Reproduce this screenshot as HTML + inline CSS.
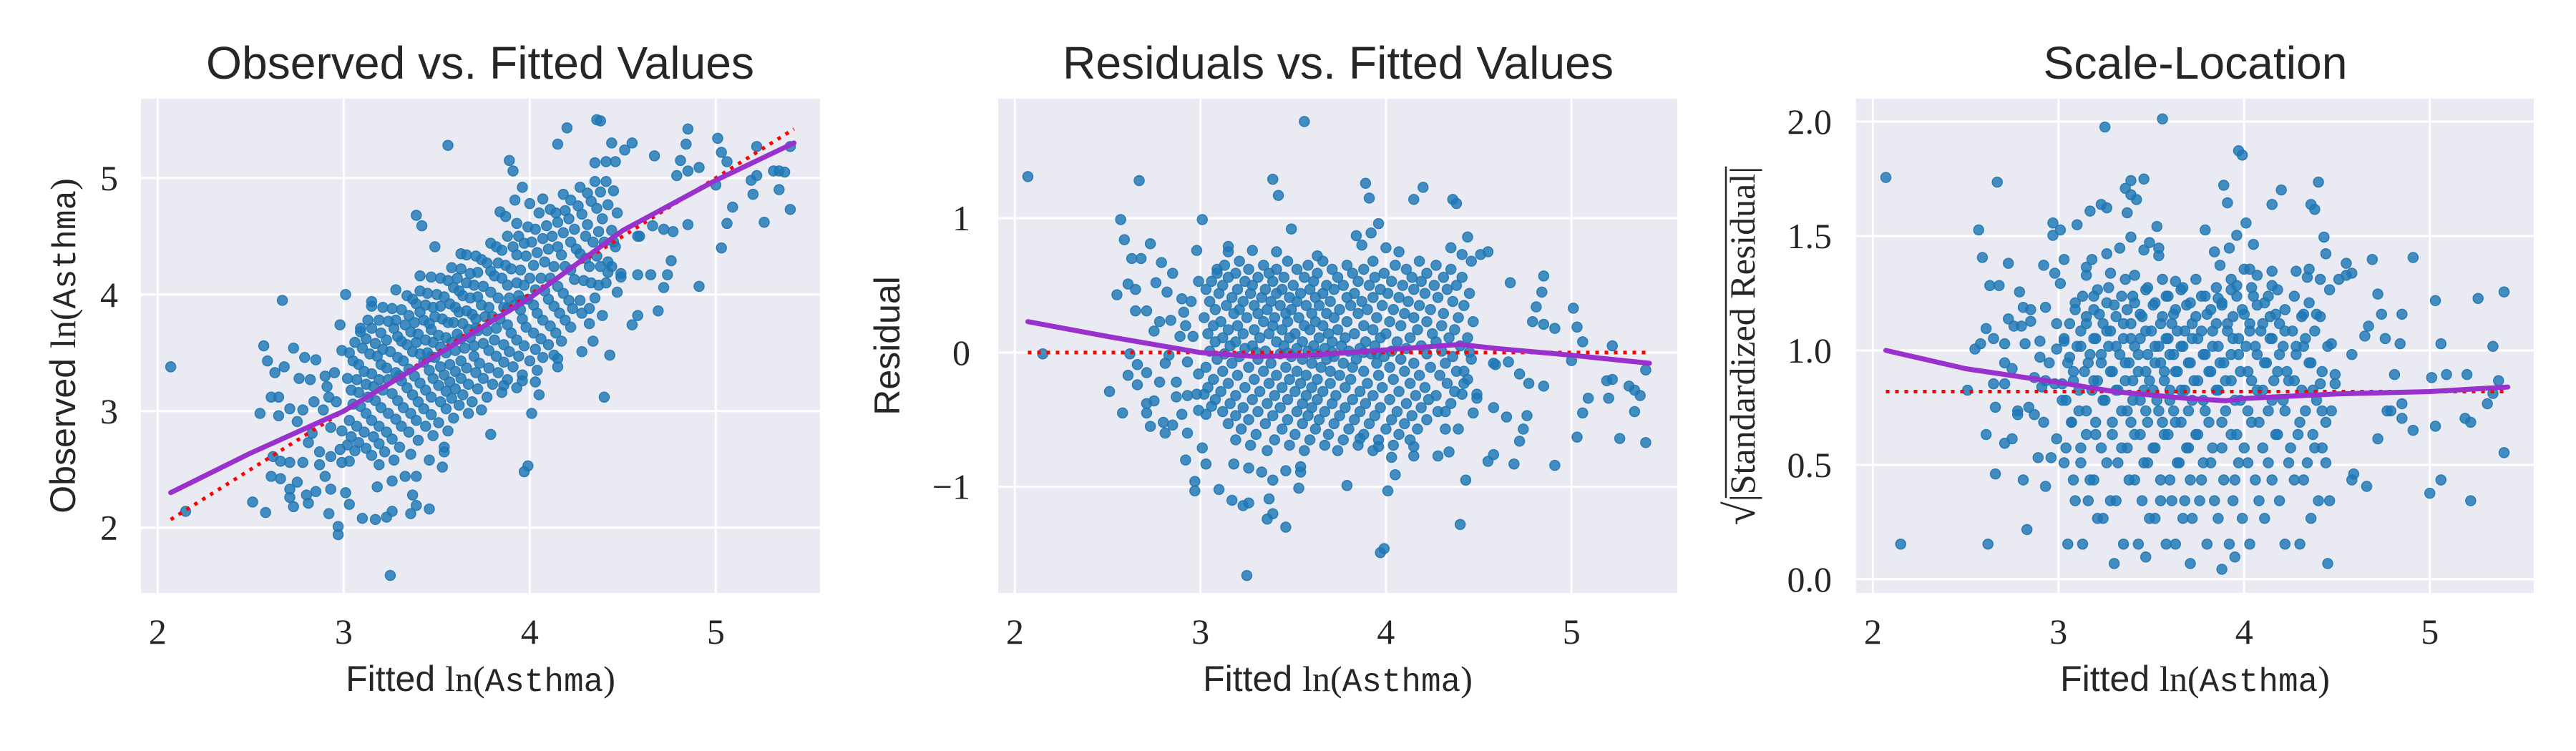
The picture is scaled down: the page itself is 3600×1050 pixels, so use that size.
<!DOCTYPE html>
<html><head><meta charset="utf-8"><style>
html,body{margin:0;padding:0;background:#fff;}
svg{display:block;}
</style></head><body>
<svg id="fig" xmlns="http://www.w3.org/2000/svg" width="3600" height="1050" viewBox="0 0 3600 1050"></svg>
<script>
// ---- data: fitted values & residuals (shared by all three panels) ----
const outlierFitted = [2.07,2.15,2.67,2.57,2.59,2.73,2.63,2.68,2.79,2.85,2.61,2.55,2.65,2.76,2.82,2.65,2.71,2.78,2.84,2.75,2.90,2.95,2.91,2.92,2.89,2.96,2.99,2.98,3.01,3.09,3.15,3.15,3.28,3.39,3.42,3.49,3.56,3.41,3.63,3.84,3.87,3.89,3.91,3.92,3.96,4.00,4.07,4.15,4.20,4.36,4.38,4.35,4.44,4.41,4.51,4.55,4.46,4.67,4.85,4.84,4.81,4.79,4.85,4.91,5.01,5.03,5.06,5.22,5.00,5.19,5.22,5.09,5.20,5.31,5.34,5.37,5.40,5.06,5.34,5.03,5.26,5.40,4.91,4.69,4.55,4.58,4.72,4.74,4.76,4.65,4.58,4.47,4.72,4.77,4.85,4.66,4.59,4.43,4.40,4.39,4.34,4.28,4.15,4.15,4.05,4.01,3.97,3.99,4.03,3.96,3.79,3.86,3.53,3.46,3.39,3.36,3.37,3.39,3.25,3.26,3.23,3.17,3.10,2.97,2.97,2.92,3.03,3.01,3.18,3.26,3.33,3.46,3.54,3.54,2.93,2.81,2.73,2.80,2.85,2.90,2.71,2.71,2.75,2.58,2.51,2.61,2.66,2.71,2.66,2.78,2.87,2.87,2.93,2.98,3.02,2.99,2.81,2.83,2.62,2.93,2.99,3.03,3.06,4.49,4.49,4.58,4.42,4.42,4.41,4.32,4.32];
const outlierResid = [1.31,-0.01,1.28,0.99,0.84,0.81,0.70,0.70,0.67,0.59,0.51,0.43,0.47,0.52,0.45,0.31,0.31,0.23,0.24,0.16,0.40,0.38,0.30,0.20,0.12,0.12,0.53,0.76,0.99,0.62,0.75,0.79,0.76,1.29,1.17,0.92,1.72,0.75,0.72,0.87,0.80,1.26,1.15,0.89,0.96,0.78,0.75,1.14,1.23,1.14,1.11,0.78,0.86,0.73,0.73,0.75,0.68,0.52,0.57,0.45,0.34,0.23,0.21,0.18,0.33,0.19,0.08,0.05,-0.06,-0.21,-0.20,-0.34,-0.34,-0.25,-0.28,-0.32,-0.13,-0.45,-0.44,-0.63,-0.64,-0.67,-0.84,-0.83,-0.81,-0.76,-0.66,-0.57,-0.47,-0.48,-0.41,-0.45,-0.16,-0.23,-0.25,-0.07,-0.09,-0.95,-1.28,-0.57,-0.74,-0.77,-0.77,-0.70,-0.91,-1.03,-1.49,-1.46,-0.78,-0.70,-0.99,-0.64,-1.01,-1.30,-1.20,-1.24,-1.09,-0.95,-1.66,-1.12,-1.14,-1.10,-1.02,-0.96,-1.03,-0.80,-0.83,-0.71,-0.83,-0.86,-0.89,-0.88,-0.89,-0.85,-0.60,-0.60,-0.55,-0.52,-0.54,-0.46,-0.45,-0.38,-0.36,-0.45,-0.29,-0.17,-0.24,-0.15,-0.09,-0.22,-0.22,-0.33,-0.32,-0.31,-0.31,-0.16,-0.08,-0.02,-0.01,-0.07,-0.43,-0.46,-0.40,-0.31,-0.34,-0.08,-0.14,-0.23,-0.31,-0.44,-0.57];
// dense core of the cloud: [residual level, fitted values at that level]
const coreRows = [
 [0.68,[3.21,3.47,3.66,3.93,4.18]],
 [0.65,[3.13,3.34,3.58,3.79,4.05,4.27]],
 [0.62,[3.26,3.41,3.52,3.71,3.88,4.11,4.35]],
 [0.59,[3.09,3.19,3.37,3.63,3.82,3.99,4.22]],
 [0.56,[3.15,3.31,3.45,3.56,3.74,3.94,4.14,4.31,4.41]],
 [0.53,[3.06,3.24,3.39,3.61,3.85,4.03,4.19]],
 [0.50,[3.12,3.28,3.50,3.68,3.77,3.91,4.09,4.26,4.38]],
 [0.47,[3.03,3.20,3.35,3.44,3.59,3.72,3.97,4.15,4.33]],
 [0.44,[3.10,3.27,3.41,3.54,3.66,3.83,4.01,4.21,4.45]],
 [0.41,[3.17,3.33,3.48,3.62,3.79,3.93,4.07,4.28]],
 [0.38,[3.05,3.23,3.38,3.52,3.70,3.87,4.12,4.36]],
 [0.35,[3.14,3.29,3.43,3.57,3.64,3.81,3.98,4.18,4.42]],
 [0.32,[3.08,3.21,3.36,3.49,3.75,3.90,4.04,4.24]],
 [0.29,[3.18,3.31,3.46,3.60,3.68,3.85,4.10,4.31]],
 [0.26,[3.02,3.25,3.40,3.53,3.72,3.95,4.15,4.39]],
 [0.23,[3.11,3.34,3.47,3.62,3.79,4.02,4.22,4.47]],
 [0.20,[3.07,3.20,3.39,3.56,3.66,3.88,4.08,4.30]],
 [0.17,[3.15,3.29,3.44,3.59,3.74,3.93,4.17,4.37]],
 [0.14,[3.04,3.23,3.37,3.51,3.69,3.83,4.00,4.25]],
 [0.11,[3.12,3.32,3.48,3.64,3.78,3.97,4.13,4.34,4.44]],
 [0.08,[3.08,3.19,3.41,3.55,3.71,3.89,4.06,4.27]],
 [0.05,[3.16,3.28,3.45,3.61,3.76,3.94,4.19,4.40]],
 [0.03,[3.24,3.52,3.67,3.86,4.11]],
 [0.01,[3.05,3.35,3.58,3.80,4.03,4.30]],
 [0.002,[3.30,3.71,4.45]],
 [0.0008,[3.88]],
 [-0.004,[3.47,3.95]],
 [-0.01,[3.13,3.43,3.63,3.92,4.22]],
 [-0.03,[3.21,3.49,3.72,3.99,4.36]],
 [-0.05,[3.09,3.31,3.55,3.68,3.84,4.08,4.46]],
 [-0.08,[3.17,3.38,3.60,3.77,3.95,4.15,4.32]],
 [-0.11,[3.03,3.26,3.46,3.65,3.82,4.02,4.24]],
 [-0.14,[3.12,3.34,3.52,3.70,3.88,4.10,4.38]],
 [-0.17,[3.20,3.41,3.57,3.75,3.96,4.18,4.29]],
 [-0.20,[3.07,3.29,3.48,3.63,3.81,4.04,4.44]],
 [-0.23,[3.15,3.37,3.54,3.70,3.90,4.13,4.33]],
 [-0.26,[3.04,3.24,3.44,3.60,3.78,3.98,4.21]],
 [-0.29,[3.11,3.32,3.51,3.66,3.86,4.07,4.37]],
 [-0.32,[3.19,3.40,3.57,3.73,3.93,4.16,4.27]],
 [-0.35,[3.08,3.28,3.47,3.63,3.82,4.02,4.23]],
 [-0.38,[3.16,3.36,3.55,3.71,3.89,4.11,4.35]],
 [-0.41,[3.23,3.43,3.60,3.78,3.97,4.19]],
 [-0.44,[3.12,3.31,3.52,3.67,3.86,4.06,4.28]],
 [-0.47,[3.19,3.39,3.58,3.75,3.94,4.14]],
 [-0.50,[3.26,3.47,3.64,3.83,4.03,4.22]],
 [-0.53,[3.15,3.35,3.55,3.72,3.91,4.10]],
 [-0.57,[3.22,3.44,3.62,3.80,4.00,4.17]],
 [-0.61,[3.30,3.51,3.69,3.88,4.07]],
 [-0.65,[3.19,3.40,3.59,3.77,3.96,4.13]],
 [-0.69,[3.27,3.48,3.67,3.85,4.04]],
 [-0.73,[3.36,3.56,3.74,3.93]]
];
const residScale = 0.425;
const lowess1X = [2.07,2.5,3.0,3.5,4.0,4.5,5.0,5.42];
const lowess1Y = [2.30,2.64,3.00,3.48,3.97,4.55,4.98,5.30];
const lowess2X = [2.07,2.5,3.0,3.3,3.6,4.0,4.4,4.6,5.0,5.42];
const lowess2Y = [0.23,0.12,0.00,-0.03,-0.02,0.02,0.06,0.03,-0.02,-0.08];
const lowess3X = [2.07,2.5,3.0,3.3,3.7,3.9,4.0,4.5,5.0,5.42];
const lowess3Y = [1.00,0.92,0.86,0.82,0.79,0.78,0.79,0.81,0.82,0.84];
const refLine3 = 0.82;
const xTicks = [2,3,4,5];
const yTicks1 = [2,3,4,5];
const yTicks2 = [-1,0,1];
const yTicks3 = [0.0,0.5,1.0,1.5,2.0];
const yTickLabels3 = ["0.0","0.5","1.0","1.5","2.0"];

const NS = "http://www.w3.org/2000/svg";
const svg = document.getElementById('fig');
function mk(tag, attrs, parent){ const e=document.createElementNS(NS,tag); for(const k in attrs) e.setAttribute(k,attrs[k]); (parent||svg).appendChild(e); return e; }

const fitted = outlierFitted.slice(), resid = outlierResid.slice();
coreRows.forEach(r => r[1].forEach(x => { fitted.push(x); resid.push(r[0]); }));

const panels = [
 {name:'observed-vs-fitted', L:197,R:1146,T:138,B:829, xd:[1.91,5.56], yd:[1.44,5.68], title:'Observed vs. Fitted Values', tcx:671, tw:766,
  yv:(i)=>fitted[i]+resid[i], yt:yTicks1, ytl:yTicks1.map(String), lx:lowess1X, ly:lowess1Y, ref:'diag', ylabel:'obs', ylx:105, ytr:165},
 {name:'residuals-vs-fitted', L:1395,R:2344,T:138,B:829, xd:[1.91,5.57], yd:[-1.79,1.89], title:'Residuals vs. Fitted Values', tcx:1870, tw:770,
  yv:(i)=>resid[i], yt:yTicks2, ytl:["\u22121","0","1"], lx:lowess2X, ly:lowess2Y, ref:0, ylabel:'Residual', ylx:1257, ytr:1356},
 {name:'scale-location', L:2594,R:3541,T:138,B:829, xd:[1.91,5.56], yd:[-0.06,2.10], title:'Scale-Location', tcx:3068, tw:425,
  yv:(i)=>Math.sqrt(Math.abs(resid[i])/residScale), yt:yTicks3, ytl:yTickLabels3, lx:lowess3X, ly:lowess3Y, ref:refLine3, ylabel:'sl', ylx:2452, ytr:2560}
];

panels.forEach((p,pi)=>{
  const g = mk('g',{});
  
  
  const sx = v => p.L + (v-p.xd[0])/(p.xd[1]-p.xd[0])*(p.R-p.L);
  const sy = v => p.B - (v-p.yd[0])/(p.yd[1]-p.yd[0])*(p.B-p.T);
  const bg = mk('rect',{x:p.L,y:p.T,width:p.R-p.L,height:p.B-p.T,fill:'#eaeaf2'},g);
  
  
  xTicks.forEach(t=>{
    const l = mk('line',{x1:sx(t),x2:sx(t),y1:p.T,y2:p.B,stroke:'#fff','stroke-width':3},g);
    
    
    const tx = mk('text',{x:sx(t),y:900,'text-anchor':'middle','font-family':'Liberation Serif, serif','font-size':50,fill:'#262626'},g);
    tx.textContent = String(t);
    
    
  });
  p.yt.forEach((t,k)=>{
    const l = mk('line',{x1:p.L,x2:p.R,y1:sy(t),y2:sy(t),stroke:'#fff','stroke-width':3},g);
    
    
    const tx = mk('text',{x:p.ytr,y:sy(t)+17,'text-anchor':'end','font-family':'Liberation Serif, serif','font-size':50,fill:'#262626'},g);
    tx.textContent = p.ytl[k];
    
    
  });
  const clipId='clip'+pi;
  const cp = mk('clipPath',{id:clipId},g); mk('rect',{x:p.L,y:p.T,width:p.R-p.L,height:p.B-p.T},cp);
  const pts = mk('g',{'clip-path':'url(#'+clipId+')'},g);
  
  
  for(let i=0;i<fitted.length;i++){
    const c = mk('circle',{cx:sx(fitted[i]),cy:sy(p.yv(i)),r:7,fill:'#1f77b4','fill-opacity':0.82,stroke:'#1f77b4','stroke-opacity':0.9,'stroke-width':1.5},pts);
    
    
  }
  let ref;
  if(p.ref==='diag') ref = mk('line',{x1:sx(2.07),y1:sy(2.07),x2:sx(5.42),y2:sy(5.42)},g);
  else ref = mk('line',{x1:sx(2.07),y1:sy(p.ref),x2:sx(5.42),y2:sy(p.ref)},g);
  ref.setAttribute('stroke','#ff0000'); ref.setAttribute('stroke-width',5); ref.setAttribute('stroke-dasharray','5 8');
  
  
  const d = p.lx.map((x,k)=>(k?'L':'M')+sx(x).toFixed(1)+' '+sy(p.ly[k]).toFixed(1)).join(' ');
  const lw = mk('path',{d:d,fill:'none',stroke:'#9932cc','stroke-width':7,'stroke-linecap':'round','stroke-linejoin':'round'},g);
  
  
  const tt = mk('text',{x:p.tcx,y:110,'text-anchor':'middle','font-family':'Liberation Sans, sans-serif','font-size':64,fill:'#262626',textLength:p.tw,lengthAdjust:'spacingAndGlyphs'},g);
  tt.textContent = p.title;
  
  
  const xl = mk('text',{x:(p.L+p.R)/2,y:966,'text-anchor':'middle','font-size':50,fill:'#262626'},g);
  
  
  xl.innerHTML = '<tspan font-family="Liberation Sans, sans-serif">Fitted </tspan><tspan font-family="Liberation Serif, serif">ln(</tspan><tspan font-family="Liberation Mono, monospace" font-size="46">Asthma</tspan><tspan font-family="Liberation Serif, serif">)</tspan>';
  const cy = (p.T+p.B)/2;
  const yl = mk('text',{x:0,y:0,'text-anchor':'middle','font-size':50,fill:'#262626',transform:'translate('+p.ylx+','+cy+') rotate(-90)'},g);
  
  
  if(p.ylabel==='obs'){
    yl.innerHTML = '<tspan font-family="Liberation Sans, sans-serif">Observed </tspan><tspan font-family="Liberation Serif, serif">ln(</tspan><tspan font-family="Liberation Mono, monospace" font-size="46">Asthma</tspan><tspan font-family="Liberation Serif, serif">)</tspan>';
  } else if(p.ylabel==='sl'){
    yl.setAttribute('font-family','Liberation Serif, serif');
    yl.innerHTML = '<tspan font-size="60">\u221A</tspan>|Standardized Residual|';
    const bb = yl.getBBox();
    const ol = mk('line',{x1:bb.x+38,x2:bb.x+bb.width,y1:-40,y2:-40,stroke:'#262626','stroke-width':2.5,transform:'translate('+p.ylx+','+cy+') rotate(-90)'},g);
    
    
  } else {
    yl.setAttribute('font-family','Liberation Sans, sans-serif');
    yl.textContent = p.ylabel;
  }
});
</script>
</body></html>
